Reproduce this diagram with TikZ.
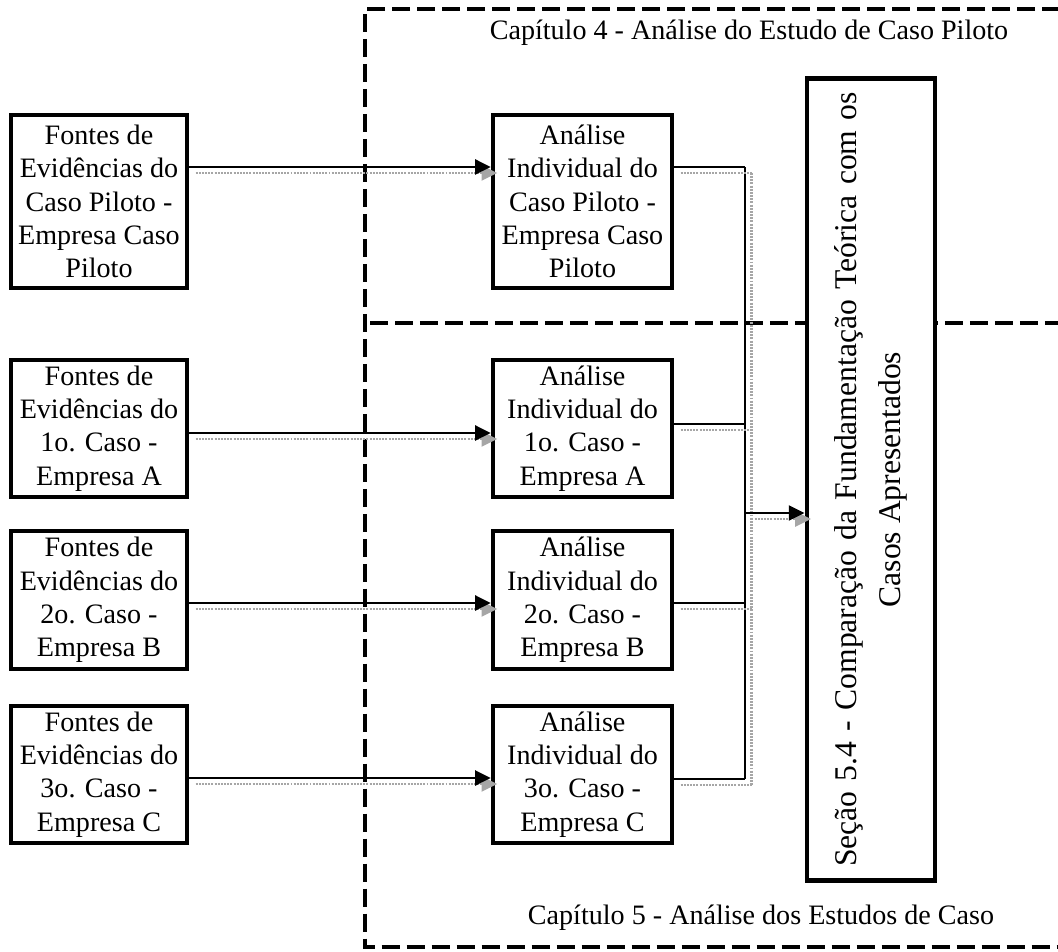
\documentclass[tikz,border=0pt]{standalone}
\usepackage{fontspec}
\setmainfont{Liberation Serif}
\usetikzlibrary{arrows.meta}
\begin{document}
\begin{tikzpicture}[x=0.02cm,y=-0.02cm,
  box/.style={draw, line width=2.5pt, fill=white, align=center, inner sep=0pt,
    font=\fontsize{16}{19}\selectfont},
  srcbox/.style={box, minimum width=3.52cm},
  anabox/.style={box, minimum width=3.58cm},
  region/.style={line width=2.3pt, dash pattern=on 0.36cm off 0.14cm},
  shade/.style={draw=gray!70, line width=1.5pt, dash pattern=on 1.1pt off 0.7pt},
  link/.style={line width=1.6pt,
    preaction={shade, transform canvas={shift={(0.13cm,-0.12cm)}}}},
  tip/.style={-{Triangle[length=9pt,width=8.5pt]}},
  chap/.style={anchor=base, font=\fontsize{16}{19}\selectfont}]
\useasboundingbox (0,0) rectangle (1058,952);

% chapter regions
\draw[region] (1060,9) -- (365,9) -- (365,947) -- (1060,947);
\draw[region] (370,323) -- (1060,323);
\node[chap] (t4) at (749,40) {Capítulo 4 - Análise do Estudo de Caso Piloto};
\node[chap] (t5) at (761,924) {Capítulo 5 - Análise dos Estudos de Caso};

% evidence sources
\node[srcbox, minimum height=3.46cm] (f1) at (99,201.5) {Fontes de\\Evidências do\\Caso Piloto -\\Empresa Caso\\Piloto};
\node[srcbox, minimum height=2.74cm] (f2) at (99,428.5) {Fontes de\\Evidências do\\1o. Caso -\\Empresa A};
\node[srcbox, minimum height=2.76cm] (f3) at (99,600) {Fontes de\\Evidências do\\2o. Caso -\\Empresa B};
\node[srcbox, minimum height=2.74cm] (f4) at (99,774.5) {Fontes de\\Evidências do\\3o. Caso -\\Empresa C};

% individual analyses
\node[anabox, minimum height=3.46cm] (a1) at (582.5,201.5) {Análise\\Individual do\\Caso Piloto -\\Empresa Caso\\Piloto};
\node[anabox, minimum height=2.74cm] (a2) at (582.5,428.5) {Análise\\Individual do\\1o. Caso -\\Empresa A};
\node[anabox, minimum height=2.76cm] (a3) at (582.5,600) {Análise\\Individual do\\2o. Caso -\\Empresa B};
\node[anabox, minimum height=2.74cm] (a4) at (582.5,774.5) {Análise\\Individual do\\3o. Caso -\\Empresa C};

% comparison
\node[draw, fill=white, line width=2.8pt, minimum width=2.56cm, minimum height=16.06cm, inner sep=0pt] (big) at (871,479.5) {};
\node[rotate=90, align=center, font=\fontsize{18}{25}\selectfont] (bigtext) at (big.center)
  {\makebox[15.5cm][s]{Seção 5.4 - Comparação da Fundamentação Teórica com os}\\Casos Apresentados};

% connector levels
\coordinate (l1) at (0,167);
\coordinate (l2) at (0,433);
\coordinate (l3) at (0,603);
\coordinate (l4) at (0,778);
\coordinate (r2) at (0,424);
\coordinate (jt) at (745,167);
\coordinate (jb) at (745,779);
\coordinate (jm) at (745,513);

% sources to analyses
\draw[link,tip] (f1.east |- l1) -- (a1.west |- l1);
\draw[link,tip] (f2.east |- l2) -- (a2.west |- l2);
\draw[link,tip] (f3.east |- l3) -- (a3.west |- l3);
\draw[link,tip] (f4.east |- l4) -- (a4.west |- l4);

% analyses to comparison
\draw[link] (jt) -- (jb);
\draw[link] (a1.east |- l1) -- (jt);
\draw[link] (a2.east |- r2) -- (jt |- r2);
\draw[link] (a3.east |- l3) -- (jt |- l3);
\draw[link] (a4.east |- jb) -- (jb);
\draw[link,tip] (jm) -- (big.west |- jm);
\end{tikzpicture}
\end{document}
